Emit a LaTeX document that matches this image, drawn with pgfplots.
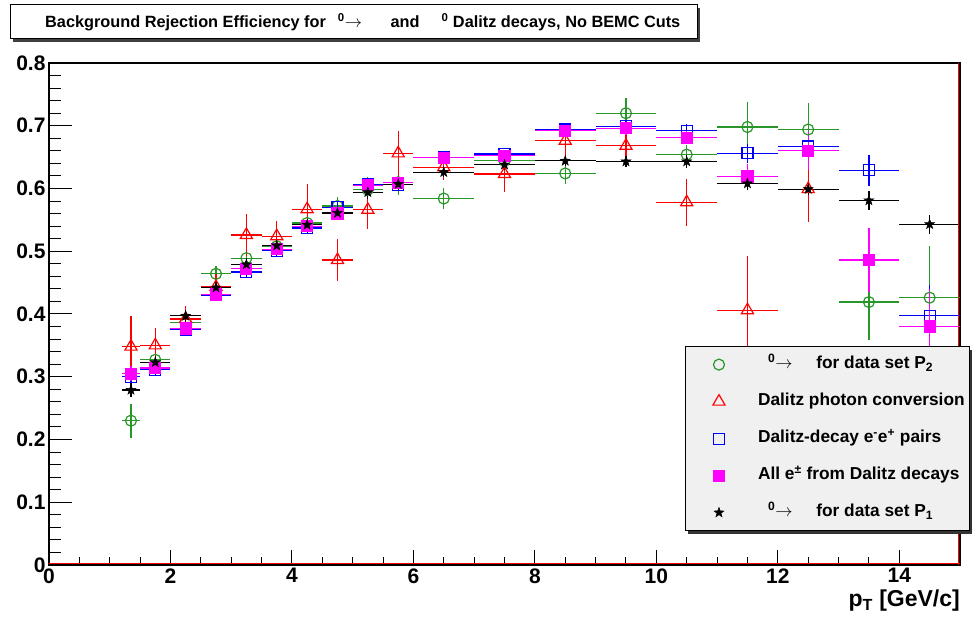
\documentclass[border=0pt]{standalone}
\usepackage{fontspec}
\setmainfont{Liberation Sans}
\usepackage{pgfplots}
\usepackage{pgfplotstable}
\pgfplotsset{compat=1.18}
\usetikzlibrary{shadows}
\definecolor{rgreen}{RGB}{40,150,40}
\definecolor{rmag}{RGB}{255,0,255}

\pgfdeclareplotmark{fstar}{%
  \pgfpathmoveto{\pgfpointpolar{90}{\pgfplotmarksize}}%
  \pgfpathlineto{\pgfpointpolar{126}{0.4*\pgfplotmarksize}}%
  \pgfpathlineto{\pgfpointpolar{162}{\pgfplotmarksize}}%
  \pgfpathlineto{\pgfpointpolar{198}{0.4*\pgfplotmarksize}}%
  \pgfpathlineto{\pgfpointpolar{234}{\pgfplotmarksize}}%
  \pgfpathlineto{\pgfpointpolar{270}{0.4*\pgfplotmarksize}}%
  \pgfpathlineto{\pgfpointpolar{306}{\pgfplotmarksize}}%
  \pgfpathlineto{\pgfpointpolar{342}{0.4*\pgfplotmarksize}}%
  \pgfpathlineto{\pgfpointpolar{18}{\pgfplotmarksize}}%
  \pgfpathlineto{\pgfpointpolar{54}{0.4*\pgfplotmarksize}}%
  \pgfpathclose\pgfusepathqfillstroke}

\pgfplotstableread{
x ex y ey
1.35 0.15 0.230 0.027
1.75 0.25 0.327 0.012
2.25 0.25 0.387 0.010
2.75 0.25 0.464 0.012
3.25 0.25 0.489 0.014
3.75 0.25 0.508 0.014
4.25 0.25 0.545 0.015
4.75 0.25 0.572 0.015
5.25 0.25 0.598 0.020
5.75 0.25 0.610 0.020
6.5 0.5 0.584 0.016
7.5 0.5 0.644 0.015
8.5 0.5 0.624 0.017
9.5 0.5 0.720 0.024
10.5 0.5 0.654 0.015
11.5 0.5 0.698 0.040
12.5 0.5 0.694 0.043
13.5 0.5 0.419 0.061
14.5 0.5 0.426 0.082
}\tgreen

\pgfplotstableread{
x ex y ey
1.35 0.15 0.348 0.049
1.75 0.25 0.350 0.027
2.25 0.25 0.392 0.020
2.75 0.25 0.443 0.020
3.25 0.25 0.526 0.033
3.75 0.25 0.524 0.025
4.25 0.25 0.567 0.040
4.75 0.25 0.486 0.033
5.25 0.25 0.566 0.030
5.75 0.25 0.656 0.036
6.5 0.5 0.634 0.020
7.5 0.5 0.623 0.028
8.5 0.5 0.676 0.025
9.5 0.5 0.668 0.030
10.5 0.5 0.578 0.037
11.5 0.5 0.406 0.087
12.5 0.5 0.599 0.052
}\tred

\pgfplotstableread{
x ex y ey
1.35 0.15 0.300 0.012
1.75 0.25 0.311 0.010
2.25 0.25 0.375 0.008
2.75 0.25 0.430 0.008
3.25 0.25 0.467 0.008
3.75 0.25 0.501 0.008
4.25 0.25 0.537 0.008
4.75 0.25 0.570 0.008
5.25 0.25 0.607 0.008
5.75 0.25 0.606 0.008
6.5 0.5 0.650 0.006
7.5 0.5 0.655 0.006
8.5 0.5 0.694 0.008
9.5 0.5 0.699 0.010
10.5 0.5 0.692 0.010
11.5 0.5 0.656 0.015
12.5 0.5 0.667 0.020
13.5 0.5 0.629 0.025
14.5 0.5 0.397 0.050
}\tblue

\pgfplotstableread{
x ex y ey
1.35 0.15 0.305 0.012
1.75 0.25 0.314 0.010
2.25 0.25 0.377 0.008
2.75 0.25 0.431 0.008
3.25 0.25 0.472 0.008
3.75 0.25 0.503 0.008
4.25 0.25 0.540 0.008
4.75 0.25 0.560 0.008
5.25 0.25 0.605 0.008
5.75 0.25 0.609 0.008
6.5 0.5 0.649 0.006
7.5 0.5 0.652 0.006
8.5 0.5 0.692 0.008
9.5 0.5 0.696 0.010
10.5 0.5 0.681 0.010
11.5 0.5 0.619 0.020
12.5 0.5 0.660 0.030
13.5 0.5 0.486 0.051
14.5 0.5 0.380 0.060
}\tmag

\pgfplotstableread{
x ex y ey
1.35 0.15 0.279 0.012
1.75 0.25 0.323 0.010
2.25 0.25 0.397 0.010
2.75 0.25 0.442 0.010
3.25 0.25 0.479 0.010
3.75 0.25 0.509 0.010
4.25 0.25 0.542 0.010
4.75 0.25 0.561 0.010
5.25 0.25 0.594 0.010
5.75 0.25 0.607 0.010
6.5 0.5 0.626 0.008
7.5 0.5 0.638 0.008
8.5 0.5 0.644 0.008
9.5 0.5 0.643 0.008
10.5 0.5 0.643 0.010
11.5 0.5 0.608 0.010
12.5 0.5 0.599 0.010
13.5 0.5 0.581 0.015
14.5 0.5 0.543 0.015
}\tblack

\pgfplotsset{
  rootaxis/.style={
    at={(49pt,55pt)}, anchor=south west,
    width=911pt, height=502pt, scale only axis,
    xmin=0, xmax=15, ymin=0, ymax=0.8,
    axis line style={line width=1.2pt},
    tick style={line width=1pt, black},
    tick align=inside,
    tick pos=left,
    /pgf/number format/assume math mode=true,
    ticklabel style={font=\fontsize{21}{21}\selectfont\bfseries},
  },
  rootleg/.style={legend image code/.code={\path (-30pt,0pt); \draw[##1] plot coordinates {(0pt,0pt)};}},
  eb/.style={error bars/.cd, x dir=both, x explicit, y dir=both, y explicit,
    error mark=none, error bar style={line width=1.2pt, #1}},
}

\begin{document}
\begin{tikzpicture}[x=1pt,y=1pt]
\useasboundingbox (0,0) rectangle (972,620);
% title box
\fill[black!75] (13,578) rectangle (700,612);
\draw[line width=1pt, fill=white] (10,581) rectangle (697,615);
\node[anchor=west, inner sep=0pt, font=\fontsize{16.3}{16.3}\selectfont\bfseries] at (45,598)
  {Background Rejection Efficiency for\hspace*{12pt}\textsuperscript{0}$\rightarrow$\hspace*{24pt} and\hspace*{22pt}\textsuperscript{0} Dalitz decays, No BEMC Cuts};

% x ticks axis
\begin{axis}[rootaxis,
  xtick={0,2,4,6,8,10,12,14}, minor x tick num=3,
  ytick=\empty,
  major tick length=15pt, minor tick length=8pt,
]
\end{axis}

\begin{axis}[rootaxis,
  xtick=\empty,
  ytick={0,0.1,0.2,0.3,0.4,0.5,0.6,0.7,0.8},
  yticklabels={0,0.1,0.2,0.3,0.4,0.5,0.6,0.7,0.8},
  minor y tick num=4,
  major tick length=23pt, minor tick length=12pt,
  legend style={at={(0.698,0.436)}, anchor=north west,
    fill=black!6, draw=black, line width=1pt,
    drop shadow={shadow xshift=3pt, shadow yshift=-3pt, fill=black!80, opacity=1},
    font=\fontsize{17.3}{17.3}\selectfont\bfseries,
    inner xsep=3pt, inner ysep=8pt, row sep=17pt,
    cells={anchor=west},
    nodes={inner sep=2pt, text height=12pt, text depth=4pt},
    /tikz/every odd column/.append style={column sep=31pt}},
]
\addplot[only marks, rootleg, color=rgreen, mark=o, mark size=5.5pt, line width=1.2pt,
  mark options={fill=white}, eb=rgreen]
  table[x=x, y=y, x error=ex, y error=ey]{\tgreen};
\addlegendentry{\hspace*{10pt}\textsuperscript{0}$\rightarrow$\hspace*{19pt} for data set P\textsubscript{2}}
\addplot[only marks, rootleg, color=red, mark=triangle, mark size=7pt, line width=1.2pt,
  mark options={fill=white}, eb=red]
  table[x=x, y=y, x error=ex, y error=ey]{\tred};
\addlegendentry{Dalitz photon conversion}
\addplot[only marks, rootleg, color=blue, mark=square, mark size=5.5pt, line width=1.2pt,
  mark options={fill=white}, eb=blue]
  table[x=x, y=y, x error=ex, y error=ey]{\tblue};
\addlegendentry{Dalitz-decay e\textsuperscript{-}e\textsuperscript{+} pairs}
\addplot[only marks, rootleg, color=rmag, mark=square*, mark size=5.5pt, line width=1.2pt,
  mark options={fill=rmag}, eb=rmag]
  table[x=x, y=y, x error=ex, y error=ey]{\tmag};
\addlegendentry{All e\textsuperscript{±} from Dalitz decays}
\addplot[only marks, rootleg, color=black, mark=fstar, mark size=5.2pt, line width=0.5pt,
  mark options={fill=black}, eb=black]
  table[x=x, y=y, x error=ex, y error=ey]{\tblack};
\addlegendentry{\hspace*{10pt}\textsuperscript{0}$\rightarrow$\hspace*{19pt} for data set P\textsubscript{1}}
\draw[red, line width=1.5pt] ([yshift=1.5pt]axis cs:0,0) -- ([yshift=1.5pt]axis cs:15,0);
\draw[red, line width=1.5pt] ([xshift=-1.5pt]axis cs:15,0) -- ([xshift=-1.5pt]axis cs:15,0.8);
\end{axis}

\node[anchor=base east, inner sep=0pt, font=\fontsize{23}{23}\selectfont\bfseries] at (960,13)
  {p\textsubscript{T} [GeV/c]};
\end{tikzpicture}
\end{document}
